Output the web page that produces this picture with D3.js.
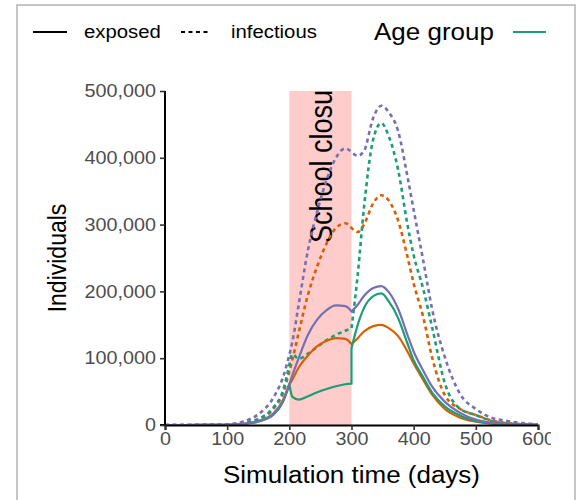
<html>
<head>
<script src="https://d3js.org/d3.v7.min.js"></script>
<style>
  html, body { margin: 0; padding: 0; background: #fff; }
  text { font-family: "Liberation Sans", Arial, sans-serif; }
</style>
</head>
<body>
<div id="chart"></div>
<script>
// time points (days); a repeated day marks a break (school closure start / end)
const days = [0, 60, 100, 125, 150, 175, 190, 200,
              200, 205, 215, 230, 245, 260, 275, 290, 300,
              300, 310, 320, 335, 348, 360, 375, 390, 400, 415, 430, 450, 475, 500, 525, 550, 600];

// values in thousands of individuals
const exposedPurple = [0, 0.05, 0.4, 1.8, 6, 18, 38, 62,
                       62, 75, 100, 135, 158, 172, 179, 178, 170,
                       170, 180, 193, 205, 208, 199, 174, 135, 110, 82, 57, 35, 18, 8, 3.5, 1.5, 0.2];
const exposedOrange = [0, 0.05, 0.3, 1.5, 5, 16, 35, 60,
                       60, 68, 86, 104, 118, 126, 130, 129, 121,
                       121, 130, 140, 148, 150, 145, 133, 110, 92, 68, 45, 24, 11, 5, 2, 0.8, 0.1];
const exposedGreen = [0, 0.05, 0.3, 1.5, 5, 16, 36, 61,
                      61, 42, 38, 43, 49, 54, 58, 61, 62,
                      115, 150, 175, 193, 197, 185, 160, 122, 97, 72, 48, 28, 14, 6, 2.5, 1, 0.1];
const infectiousPurple = [0, 0.2, 1, 5, 16, 42, 72, 105,
                          105, 125, 180, 262, 320, 367, 400, 414, 409,
                          409, 403, 410, 460, 478, 468, 440, 372, 322, 248, 172, 102, 46, 24, 11, 6, 1];
const infectiousOrange = [0, 0.1, 0.6, 3, 8, 25, 48, 80,
                          80, 98, 138, 195, 238, 272, 295, 302, 295,
                          295, 289, 300, 332, 344, 336, 306, 252, 212, 163, 100, 45, 24, 15, 7, 3, 0.5];
const infectiousGreen = [0, 0.1, 0.6, 3, 9, 27, 52, 90,
                         90, 106, 99, 107, 117, 127, 135, 141, 145,
                         145, 225, 325, 428, 452, 432, 382, 300, 254, 205, 145, 63, 24, 15, 6, 2.5, 0.3];

const yTicks = [0, 100000, 200000, 300000, 400000, 500000];
const xTicks = [0, 100, 200, 300, 400, 500, 600];
const closure = [200, 300];

const width = 579, height = 500;
const sx = 1.13; // the reference is stretched sideways

const svg = d3.select("#chart").append("svg")
    .attr("width", width).attr("height", height);

// figure frame
svg.append("rect")
    .attr("x", 17).attr("y", 5).attr("width", 558).attr("height", 520)
    .attr("fill", "none").attr("stroke", "#b3b3b3").attr("stroke-width", 1.5);

const x = d3.scaleLinear().domain([0, 600]).range([165, 538]);
const y = d3.scaleLinear().domain([0, 500000]).range([425, 91]);

svg.append("clipPath").attr("id", "panel")
  .append("rect")
    .attr("x", x(0)).attr("y", y(500000))
    .attr("width", x(600) - x(0)).attr("height", y(0) - y(500000));

// the original figure is cut off just right of the last tick label
svg.append("clipPath").attr("id", "cutoff")
  .append("rect")
    .attr("x", 0).attr("y", 0).attr("width", 551).attr("height", height);

const panel = svg.append("g").attr("clip-path", "url(#panel)");

// school closure band
panel.append("rect")
    .attr("x", x(closure[0])).attr("width", x(closure[1]) - x(closure[0]))
    .attr("y", y(500000)).attr("height", y(0) - y(500000))
    .attr("fill", "#ffcccc");

panel.append("text")
    .attr("transform", "translate(" + (x(closure[0]) + 43) + ",243) scale(" + sx + ",1) rotate(-90)")
    .attr("font-size", 27)
    .attr("fill", "#000")
    .text("School closure");

const line = d3.line()
    .x(d => x(d[0]))
    .y(d => y(d[1] * 1000))
    .curve(d3.curveMonotoneX);

// split at repeated days, join the pieces with straight steps
function pathFor(values) {
    const segs = [];
    let cur = [];
    days.forEach((d, i) => {
        if (i > 0 && d === days[i - 1]) { segs.push(cur); cur = []; }
        cur.push([d, values[i]]);
    });
    segs.push(cur);
    return segs.map((s, i) => i === 0 ? line(s) : line(s).replace(/^M/, "L")).join("");
}

const series = [
    {values: infectiousOrange, color: "#d95f02", dash: "4,3.5"},
    {values: infectiousGreen, color: "#1b9e77", dash: "4,3.5"},
    {values: infectiousPurple, color: "#7570b3", dash: "4,3.5"},
    {values: exposedOrange, color: "#d95f02", dash: null},
    {values: exposedGreen, color: "#1b9e77", dash: null},
    {values: exposedPurple, color: "#7570b3", dash: null}
];

panel.selectAll("path.series")
    .data(series)
    .enter().append("path")
    .attr("class", "series")
    .attr("d", d => pathFor(d.values))
    .attr("fill", "none")
    .attr("stroke", d => d.color)
    .attr("stroke-width", d => d.dash ? 2.6 : 2.2)
    .attr("stroke-dasharray", d => d.dash);

// axes
const gy = svg.append("g")
    .attr("transform", "translate(" + x(0) + ",0)")
    .call(d3.axisLeft(y).tickValues(yTicks).tickFormat(d3.format(",")).tickSize(5).tickPadding(3));
const gx = svg.append("g")
    .attr("clip-path", "url(#cutoff)")
  .append("g")
    .attr("transform", "translate(0," + y(0) + ")")
    .call(d3.axisBottom(x).tickValues(xTicks).tickSize(5).tickPadding(3));

[gy, gx].forEach(g => {
    g.select(".domain").attr("stroke", "#000").attr("stroke-width", 2);
    g.selectAll(".tick line").attr("stroke", "#333").attr("stroke-width", 1.6);
    g.selectAll(".tick text")
        .attr("font-size", 17.5)
        .attr("fill", "#4d4d4d")
        .attr("transform", "scale(" + sx + ",1)");
});
gy.select(".domain").attr("d", "M0," + y(500000) + "V" + y(0) + "H-5");

// axis titles
svg.append("text")
    .attr("transform", "translate(" + ((x(0) + x(600)) / 2) + ",483) scale(" + sx + ",1)")
    .attr("text-anchor", "middle")
    .attr("font-size", 23)
    .text("Simulation time (days)");

svg.append("text")
    .attr("transform", "translate(66," + ((y(0) + y(500000)) / 2) + ") scale(" + sx + ",1) rotate(-90)")
    .attr("text-anchor", "middle")
    .attr("font-size", 23)
    .text("Individuals");

// legend
const legend = svg.append("g");
legend.append("line")
    .attr("x1", 33).attr("x2", 67).attr("y1", 32).attr("y2", 32)
    .attr("stroke", "#000").attr("stroke-width", 2.2);
legend.append("text")
    .attr("transform", "translate(84,38) scale(" + sx + ",1)")
    .attr("font-size", 18).text("exposed");
legend.append("line")
    .attr("x1", 181).attr("x2", 208).attr("y1", 32).attr("y2", 32)
    .attr("stroke", "#000").attr("stroke-width", 2.2).attr("stroke-dasharray", "4,3.5");
legend.append("text")
    .attr("transform", "translate(231,38) scale(" + sx + ",1)")
    .attr("font-size", 18).text("infectious");
legend.append("text")
    .attr("transform", "translate(374,40) scale(" + sx + ",1)")
    .attr("font-size", 23).text("Age group");
legend.append("line")
    .attr("x1", 513).attr("x2", 546).attr("y1", 32).attr("y2", 32)
    .attr("stroke", "#1b9e77").attr("stroke-width", 2.2);
</script>
</body>
</html>
